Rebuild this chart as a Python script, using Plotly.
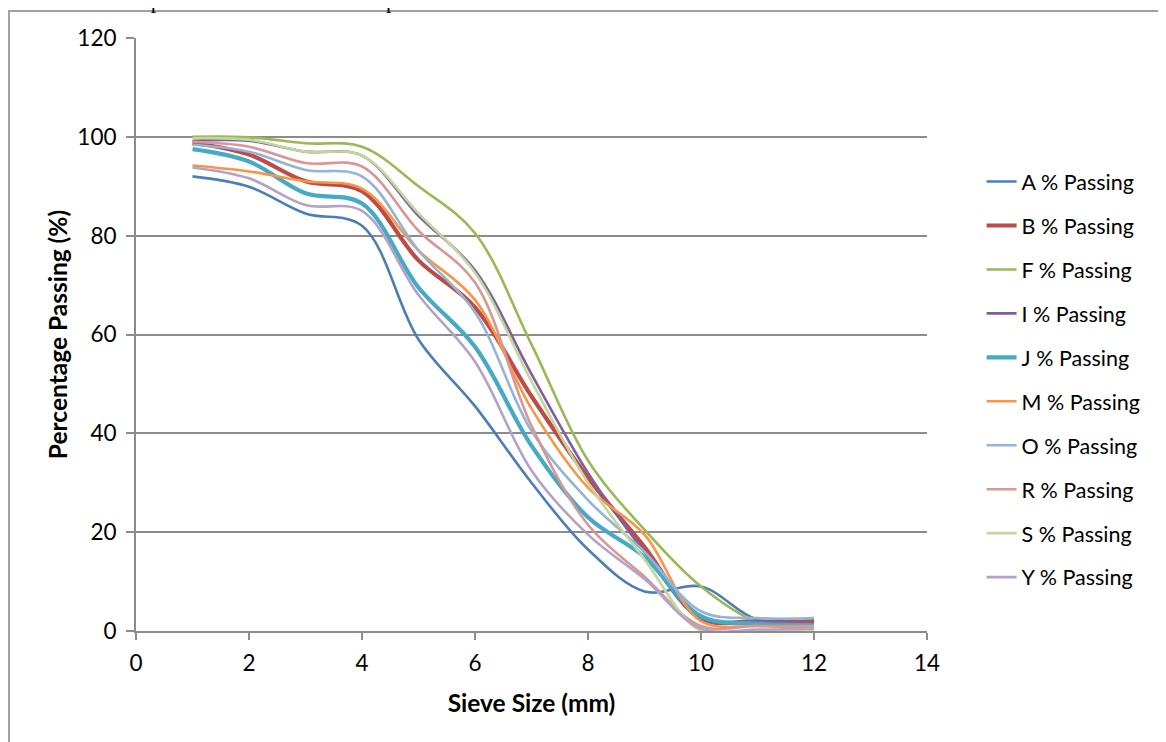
import plotly.graph_objects as go

# Sieve sizes (mm)
sieve = [1, 2, 3, 4, 5, 6, 7, 8, 9, 10, 11, 12]

A = [92.0, 89.9, 84.5, 82.0, 59.0, 45.5, 30.0, 16.5, 8.0, 9.0, 2.3, 2.3]
B = [98.8, 96.4, 91.0, 89.0, 75.0, 65.5, 47.5, 31.0, 17.0, 2.5, 2.0, 1.8]
F = [100.0, 99.9, 98.7, 98.0, 90.0, 80.5, 58.0, 34.5, 20.5, 9.0, 1.8, 0.4]
I = [99.2, 99.2, 97.0, 96.2, 84.0, 73.0, 52.0, 32.0, 16.0, 2.5, 2.0, 1.5]
J = [97.5, 95.0, 88.6, 86.5, 69.5, 57.5, 37.5, 23.0, 15.0, 3.0, 1.5, 1.2]
M = [94.2, 93.0, 91.0, 89.5, 77.0, 67.0, 45.0, 29.0, 19.5, 2.0, 1.0, 0.8]
O = [98.4, 97.0, 93.3, 92.0, 77.0, 64.5, 40.5, 26.5, 16.0, 4.0, 2.6, 2.6]
R = [99.0, 98.0, 94.7, 94.0, 81.0, 70.5, 41.5, 21.5, 11.0, 1.0, 1.0, 1.0]
S = [99.7, 99.4, 97.0, 96.2, 84.5, 72.5, 50.5, 30.0, 14.5, 0.0, 0.0, 0.0]
Y = [93.8, 91.6, 86.2, 85.0, 68.0, 54.5, 32.5, 19.5, 10.5, 0.5, 0.3, 0.5]

names = ["A % Passing", "B % Passing", "F % Passing", "I % Passing", "J % Passing",
         "M % Passing", "O % Passing", "R % Passing", "S % Passing", "Y % Passing"]
series = [A, B, F, I, J, M, O, R, S, Y]
colors = ["#4A7EBB", "#BE4B48", "#98B954", "#7D60A0", "#46AAC5",
          "#F79646", "#95B3D7", "#D99694", "#C3D69B", "#B3A2C7"]
widths = [2.6, 4.2, 2.6, 2.6, 4.2, 2.6, 2.6, 2.6, 2.6, 2.6]

x_ticks = [0, 2, 4, 6, 8, 10, 12, 14]
y_ticks = [0, 20, 40, 60, 80, 100, 120]

fig = go.Figure()
for nm, vals, c, w in zip(names, series, colors, widths):
    fig.add_trace(go.Scatter(
        x=sieve, y=vals, name=nm, mode="lines",
        line=dict(color=c, width=w, shape="spline", smoothing=1.0),
        legendgroup=nm,
    ))

FONT = "Lato, 'Open Sans', sans-serif"
GRID = "#8C8C8C"

# the page adds an 8px body margin, so figure coords = page coords - 8
L, T, PW, PH = 128, 30, 791, 593

fig.update_layout(
    width=1166, height=742,
    margin=dict(l=L, r=1166 - L - PW, t=T, b=742 - T - PH),
    paper_bgcolor="white", plot_bgcolor="white",
    font=dict(family=FONT, size=22, color="#000000"),
    showlegend=True,
    legend=dict(x=1.069, xanchor="left", y=0.424, yanchor="middle",
                font=dict(family=FONT, size=21.5, color="#000000"),
                tracegroupgap=13, bgcolor="rgba(0,0,0,0)"),
    xaxis=dict(range=[0, 14], tickvals=x_ticks, ticktext=[str(v) for v in x_ticks],
               showgrid=False, zeroline=False, showline=True, linecolor=GRID, linewidth=2,
               ticks="outside", ticklen=7, tickwidth=2, tickcolor=GRID,
               ticklabelstandoff=4,
               tickfont=dict(family=FONT, size=22.5, color="#000000"),
               title=dict(text="<b>Sieve Size (mm)</b>", standoff=20,
                          font=dict(family=FONT, size=24.5, color="#000000"))),
    yaxis=dict(range=[0, 120], tickvals=y_ticks, ticktext=[str(v) for v in y_ticks],
               showgrid=True, gridcolor=GRID, gridwidth=2,
               zeroline=False, showline=True, linecolor=GRID, linewidth=2,
               ticks="outside", ticklen=8, tickwidth=2, tickcolor=GRID,
               ticklabelstandoff=5,
               tickfont=dict(family=FONT, size=22.5, color="#000000"),
               title=dict(text="<b>Percentage Passing (%)</b>", standoff=3,
                          font=dict(family=FONT, size=24.5, color="#000000"))),
)

# outer frame lines of the original screenshot (top and left), page coords
px2x = lambda p: (p - 8 - L) / PW
py2y = lambda p: (T + PH - (p - 8)) / PH
fig.add_shape(type="line", xref="paper", yref="paper",
              x0=px2x(8), x1=px2x(1174), y0=py2y(11), y1=py2y(11),
              line=dict(color="#A0A0A0", width=2))
fig.add_shape(type="line", xref="paper", yref="paper",
              x0=px2x(9), x1=px2x(9), y0=py2y(11), y1=py2y(760),
              line=dict(color="#A0A0A0", width=2))

# cut-off line of page text above the chart (only its lowest strokes show)
fig.add_annotation(text="each cloth sample were collected and the particle size",
                   xref="paper", yref="paper", x=px2x(18), y=py2y(15),
                   xanchor="left", yanchor="bottom", showarrow=False,
                   font=dict(family="Liberation Serif, serif", size=22, color="#000000"))

fig.write_html("out.html")
